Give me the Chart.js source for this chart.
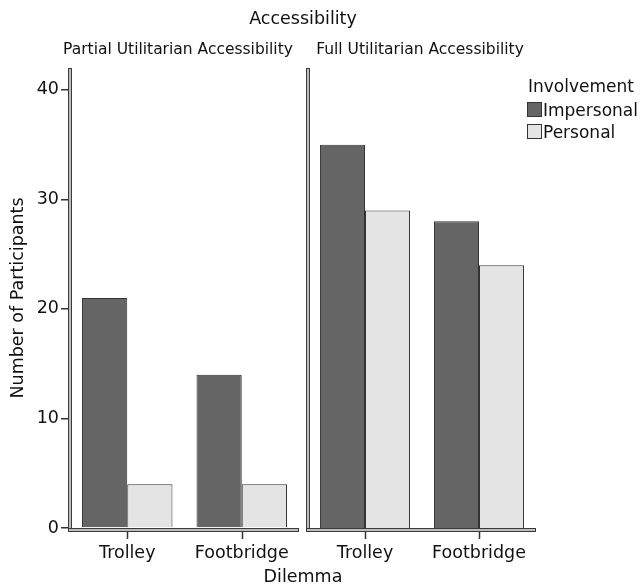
<!DOCTYPE html>
<html>
<head>
<meta charset="utf-8">
<script src="https://cdn.jsdelivr.net/npm/chart.js@4.4.1/dist/chart.umd.min.js"></script>
<style>
  html, body { margin: 0; padding: 0; background: #fff; }
  body { width: 640px; height: 587px; position: relative; overflow: hidden; font-family: "DejaVu Sans", sans-serif; color: #111; }
  canvas { position: absolute; top: 0; }
  .txt { position: absolute; white-space: nowrap; line-height: 1; }
  .c { transform: translate(-50%, -50%); }
  .l { transform: translate(0, -50%); }
  .box { position: absolute; width: 15px; height: 15px; border: 1px solid #333; box-sizing: border-box; }
</style>
</head>
<body>
<canvas id="left" width="302" height="570" style="left:0px;width:302px;height:570px"></canvas>
<canvas id="right" width="240" height="570" style="left:300px;width:240px;height:570px"></canvas>

<div class="txt c" style="left:303px;top:19px;font-size:17.5px;">Accessibility</div>
<div class="txt c" style="left:178px;top:50px;font-size:15.5px;">Partial Utilitarian Accessibility</div>
<div class="txt c" style="left:420px;top:50px;font-size:15.5px;">Full Utilitarian Accessibility</div>
<div class="txt c" style="left:303px;top:577px;font-size:17.5px;">Dilemma</div>

<div class="txt l" style="left:528px;top:86px;font-size:17px;">Involvement</div>
<div class="box" style="left:527px;top:102px;background:#656565;"></div>
<div class="txt l" style="left:543px;top:110px;font-size:17px;">Impersonal</div>
<div class="box" style="left:527px;top:124px;background:#e4e4e4;"></div>
<div class="txt l" style="left:543px;top:132px;font-size:17px;">Personal</div>

<script>
// ---- data ----
const categories = ["Trolley", "Footbridge"];
const seriesNames = ["Impersonal", "Personal"];
const panelNames = ["Partial Utilitarian Accessibility", "Full Utilitarian Accessibility"];
const partialImpersonal = [21, 14];
const partialPersonal = [4, 4];
const fullImpersonal = [35, 28];
const fullPersonal = [29, 24];
const yTicks = [0, 10, 20, 30, 40];
const yMax = 42;

// ---- styling ----
const FONT = "'DejaVu Sans', sans-serif";
const colImp = "#656565";
const colPer = "#e4e4e4";
const edge = "#333333";

const doubleAxis = {
  id: "doubleAxis",
  afterDatasetsDraw(chart) {
    const ctx = chart.ctx;
    const a = chart.chartArea;
    ctx.save();
    // x tick marks at category centres
    const xs = chart.scales.x;
    ctx.strokeStyle = edge;
    ctx.lineWidth = 1.5;
    categories.forEach((c, i) => {
      const px = Math.round(xs.getPixelForValue(i)) + 0.5;
      ctx.beginPath();
      ctx.moveTo(px, a.bottom + 2);
      ctx.lineTo(px, a.bottom + 11);
      ctx.stroke();
    });
    // y axis (double line)
    ctx.fillStyle = "#3a3a3a";
    ctx.fillRect(a.left - 2, a.top, 4, a.bottom - a.top + 4);
    ctx.fillStyle = "#bdbdbd";
    ctx.fillRect(a.left - 1, a.top + 1, 2, a.bottom - a.top + 2);
    // x axis (double line)
    ctx.fillStyle = "#3a3a3a";
    ctx.fillRect(a.left - 2, a.bottom, a.right - a.left + 2, 4);
    ctx.fillStyle = "#bdbdbd";
    ctx.fillRect(a.left - 1, a.bottom + 1, a.right - a.left, 2);
    ctx.restore();
  }
};

function makeChart(id, impVals, perVals, showY, padRight, yWidth) {
  return new Chart(document.getElementById(id), {
    type: "bar",
    data: {
      labels: categories,
      datasets: [
        { label: seriesNames[0], data: impVals, backgroundColor: colImp, borderColor: edge, borderWidth: 1 },
        { label: seriesNames[1], data: perVals, backgroundColor: colPer, borderColor: edge, borderWidth: 1 }
      ]
    },
    options: {
      responsive: false,
      animation: false,
      events: [],
      categoryPercentage: 0.79,
      barPercentage: 1.0,
      layout: { padding: { top: 68, right: padRight, left: 0, bottom: 0 } },
      plugins: { legend: { display: false }, tooltip: { enabled: false }, title: { display: false } },
      scales: {
        x: {
          offset: true,
          grid: { display: false },
          border: { display: false },
          ticks: { font: { family: FONT, size: 17.5 }, color: "#111", padding: 7, maxRotation: 0 },
          afterFit(scale) { scale.height = 570 - 528; }
        },
        y: {
          min: 0, max: yMax,
          afterBuildTicks(scale) { scale.ticks = yTicks.map(v => ({ value: v })); },
          grid: { display: showY, drawOnChartArea: false, tickLength: 9, color: edge, lineWidth: 1.5 },
          border: { display: false },
          ticks: { display: showY, font: { family: FONT, size: 17.5 }, color: "#111", padding: 2 },
          title: { display: showY, text: "Number of Participants", font: { family: FONT, size: 17.5 }, color: "#111", padding: { top: 8, bottom: 2 } },
          afterFit(scale) { scale.width = yWidth; }
        }
      }
    },
    plugins: [doubleAxis]
  });
}

makeChart("left", partialImpersonal, partialPersonal, true, 3, 70);
makeChart("right", fullImpersonal, fullPersonal, false, 4, 8);
</script>
</body>
</html>
